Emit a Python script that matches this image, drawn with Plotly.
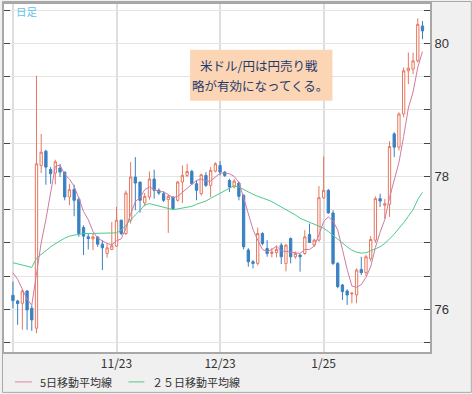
import plotly.graph_objects as go

# ---- data ----
idx = list(range(88))
opens = [76.21, 76.125, 76.09, 76.275, 76.015, 75.715, 78.165, 78.38, 78.105, 78.05,
         78.125, 78.065, 77.69, 77.805, 77.655, 77.23, 77.09, 77.06, 77.085, 76.98,
         76.84, 76.90, 76.95, 77.34, 77.14, 77.34, 77.99, 77.915, 77.60, 77.69,
         77.96, 77.79, 77.74, 77.65, 77.69, 77.64, 77.915, 78.015, 78.075, 77.89,
         77.74, 78.015, 77.865, 78.08, 78.165, 78.065, 77.94, 77.84, 77.90, 77.715,
         76.89, 76.715, 76.69, 77.14, 76.915, 76.84, 76.85, 76.965, 76.69, 77.065,
         76.79, 76.815, 76.84, 77.125, 76.965, 77.04, 77.68, 77.79, 77.45, 76.69,
         76.365, 76.275, 76.23, 76.215, 76.60, 76.55, 76.76, 77.04, 77.665, 77.565,
         77.58, 78.64, 78.44, 78.94, 79.59, 79.615, 79.74, 80.265]
highs = [76.415, 76.14, 76.30, 76.29, 76.06, 79.515, 78.64, 78.40, 78.14, 78.25,
         78.19, 78.07, 77.89, 77.875, 77.69, 77.265, 77.14, 77.14, 77.10, 77.04,
         76.99, 77.315, 77.54, 77.35, 77.79, 78.215, 78.29, 77.92, 77.75, 78.075,
         78.10, 77.82, 77.77, 77.72, 77.70, 77.93, 78.165, 78.19, 78.10, 77.94,
         78.04, 78.065, 78.14, 78.215, 78.23, 78.08, 77.965, 77.96, 77.92, 77.73,
         76.92, 76.74, 77.23, 77.16, 77.04, 76.92, 76.96, 77.00, 76.98, 77.08,
         76.87, 76.83, 77.19, 77.29, 77.06, 77.855, 78.30, 77.81, 77.49, 76.71,
         76.38, 76.30, 76.26, 76.615, 76.79, 76.82, 77.10, 77.70, 77.74, 77.66,
         78.53, 78.665, 78.965, 79.64, 79.865, 79.865, 80.38, 80.34]
lows = [76.015, 75.765, 75.69, 75.69, 75.675, 75.64, 78.05, 77.875, 77.89, 77.88,
        77.99, 77.64, 77.565, 77.40, 77.09, 76.815, 76.90, 76.89, 76.94, 76.59,
        76.775, 76.89, 76.94, 77.115, 77.115, 77.29, 77.49, 77.455, 77.55, 77.65,
        77.665, 77.72, 77.615, 77.15, 77.50, 77.62, 77.60, 77.99, 77.87, 77.64,
        77.71, 77.84, 77.69, 78.06, 78.015, 77.99, 77.765, 77.82, 77.64, 76.90,
        76.64, 76.615, 76.66, 76.96, 76.79, 76.78, 76.78, 76.68, 76.57, 76.69,
        76.76, 76.565, 76.82, 77.00, 76.94, 77.02, 77.66, 77.44, 76.665, 76.315,
        76.14, 76.065, 76.09, 76.09, 76.515, 76.50, 76.72, 77.00, 77.54, 77.36,
        77.39, 78.29, 78.39, 78.89, 79.39, 79.54, 79.715, 80.065]
closes = [76.13, 76.085, 76.275, 75.99, 75.84, 78.19, 78.365, 78.14, 78.04, 78.22,
          78.065, 77.69, 77.80, 77.64, 77.14, 77.10, 77.065, 77.09, 76.98, 76.925,
          76.925, 76.955, 77.34, 77.14, 77.75, 77.99, 77.90, 77.64, 77.70, 77.96,
          77.79, 77.75, 77.64, 77.70, 77.515, 77.915, 78.015, 78.075, 77.89, 77.79,
          78.025, 77.865, 78.09, 78.19, 78.065, 78.015, 77.84, 77.93, 77.70, 76.94,
          76.715, 76.69, 77.14, 76.99, 76.84, 76.86, 76.90, 76.79, 76.965, 76.79,
          76.84, 76.79, 77.09, 77.005, 77.04, 77.68, 77.79, 77.45, 76.69, 76.34,
          76.265, 76.215, 76.24, 76.59, 76.55, 76.79, 77.05, 77.665, 77.63, 77.59,
          78.45, 78.44, 78.94, 79.59, 79.63, 79.74, 80.29, 80.19]
ma5 = [76.55, 76.45, 76.30, 76.15, 76.06, 76.50, 77.00, 77.35, 77.75, 78.15,
       78.17, 78.03, 77.96, 77.85, 77.67, 77.47, 77.35, 77.17, 77.07, 77.03,
       76.99, 76.97, 77.03, 77.06, 77.22, 77.43, 77.62, 77.68, 77.80, 77.84,
       77.80, 77.77, 77.77, 77.72, 77.68, 77.70, 77.76, 77.82, 77.88, 77.94,
       77.96, 77.93, 77.93, 77.99, 78.05, 78.05, 78.04, 78.00, 77.91, 77.68,
       77.42, 77.20, 77.04, 76.90, 76.87, 76.90, 76.95, 76.88, 76.87, 76.86,
       76.86, 76.84, 76.90, 76.90, 76.95, 77.12, 77.32, 77.39, 77.33, 77.19,
       76.90, 76.60, 76.35, 76.33, 76.37, 76.48, 76.64, 76.93, 77.16, 77.35,
       77.68, 77.95, 78.21, 78.60, 79.03, 79.27, 79.64, 79.88]
ma25 = [76.70, 76.68, 76.66, 76.65, 76.63, 76.77, 76.82, 76.88, 76.94, 76.99,
        77.03, 77.07, 77.10, 77.115, 77.13, 77.14, 77.14, 77.14, 77.14, 77.14,
        77.14, 77.14, 77.15, 77.19, 77.27, 77.35, 77.42, 77.49, 77.57, 77.59,
        77.57, 77.55, 77.53, 77.51, 77.50, 77.51, 77.52, 77.53, 77.55, 77.58,
        77.60, 77.63, 77.67, 77.71, 77.75, 77.79, 77.83, 77.86, 77.84, 77.80,
        77.77, 77.73, 77.70, 77.68, 77.65, 77.62, 77.58, 77.55, 77.51, 77.47,
        77.42, 77.37, 77.34, 77.31, 77.29, 77.26, 77.22, 77.17, 77.11, 77.05,
        76.99, 76.94, 76.89, 76.86, 76.845, 76.85, 76.88, 76.91, 76.94, 76.99,
        77.06, 77.13, 77.22, 77.30, 77.40, 77.50, 77.65, 77.76]
x_tick_pos = [0, 22, 44, 66]
x_tick_text = ["", "11/23", "12/23", "1/25"]
y_tick_vals = [75.5, 76.0, 76.5, 77.0, 77.5, 78.0, 78.5, 79.0, 79.5, 80.0, 80.5]
y_tick_text = ["", "76", "", "", "", "78", "", "", "", "80", ""]
legend_names = ["5日移動平均線", "２５日移動平均線"]
note_lines = ["米ドル/円は円売り戦", "略が有効になってくる。"]
title_label = "日足"

UP = "#e8775f"
DOWN = "#3a80c2"
C5 = "#cf7aa3"
C25 = "#4cca8b"
CJK = "Noto Sans CJK JP"

fig = go.Figure()
fig.add_trace(go.Candlestick(
    x=idx, open=opens, high=highs, low=lows, close=closes,
    increasing=dict(line=dict(color=UP, width=1), fillcolor="#ffffff"),
    decreasing=dict(line=dict(color=DOWN, width=1), fillcolor=DOWN),
    whiskerwidth=0, showlegend=False, hoverinfo="skip"))
fig.add_trace(go.Scatter(x=idx, y=ma25, mode="lines",
                         line=dict(color=C25, width=1), showlegend=False))
fig.add_trace(go.Scatter(x=idx, y=ma5, mode="lines",
                         line=dict(color=C5, width=1), showlegend=False))

L, T, W, H = 2, 3, 428, 349


def px(v):
    return (v - L) / W


def py(v):
    return (T + H - v) / H


shapes = [
    # outer border of the whole picture
    dict(type="rect", xref="paper", yref="paper", x0=px(0.5), x1=px(471.5),
         y0=py(392.5), y1=py(0.5), line=dict(color="#a8a8a8", width=1)),
    # note box
    dict(type="rect", xref="paper", yref="paper", x0=px(189), x1=px(332),
         y0=py(100), y1=py(49), fillcolor="#fcd5b4", line=dict(width=0)),
    # legend line samples
    dict(type="line", xref="paper", yref="paper", x0=px(13), x1=px(30),
         y0=py(382), y1=py(382), line=dict(color="#e0889a", width=1)),
    dict(type="line", xref="paper", yref="paper", x0=px(127), x1=px(143),
         y0=py(382), y1=py(382), line=dict(color=C25, width=1)),
]

annotations = [
    dict(xref="paper", yref="paper", x=px(258), y=py(65), text=note_lines[0],
         showarrow=False, xanchor="center", yanchor="middle",
         font=dict(family=CJK, size=12.5, color="#1f3a6e")),
    dict(xref="paper", yref="paper", x=px(259.5), y=py(85), text=note_lines[1],
         showarrow=False, xanchor="center", yanchor="middle",
         font=dict(family=CJK, size=12.5, color="#1f3a6e")),
    dict(xref="paper", yref="paper", x=px(12), y=py(10.5), text=title_label,
         showarrow=False, xanchor="left", yanchor="middle",
         font=dict(family=CJK, size=10.5, color="#5ec3ee")),
    dict(xref="paper", yref="paper", x=px(36), y=py(382), text=legend_names[0],
         showarrow=False, xanchor="left", yanchor="middle",
         font=dict(family=CJK, size=11, color="#333333")),
    dict(xref="paper", yref="paper", x=px(149), y=py(382), text=legend_names[1],
         showarrow=False, xanchor="left", yanchor="middle",
         font=dict(family=CJK, size=11, color="#333333")),
]

fig.update_layout(
    width=472, height=394,
    margin=dict(l=L, r=472 - L - W, t=T, b=394 - T - H),
    paper_bgcolor="#f0f0f0", plot_bgcolor="#ffffff",
    shapes=shapes, annotations=annotations, showlegend=False,
    hovermode=False,
    font=dict(family=CJK, size=12, color="#333333"),
    xaxis=dict(range=[-1.9, 88.6], rangeslider=dict(visible=False),
               tickmode="array", tickvals=x_tick_pos, ticktext=x_tick_text,
               showgrid=True, gridcolor="#dedede", gridwidth=2,
               showline=True, linecolor="#a8a8a8", linewidth=2, mirror=True,
               ticks="", zeroline=False,
               tickfont=dict(family=CJK, size=12, color="#333333")),
    yaxis=dict(range=[75.356, 80.596], side="right",
               tickmode="array", tickvals=y_tick_vals, ticktext=y_tick_text,
               showgrid=True, gridcolor="#e4e4e4", gridwidth=1,
               showline=True, linecolor="#a8a8a8", linewidth=2, mirror="ticks",
               ticks="inside", ticklen=6, tickwidth=1, tickcolor="#444444",
               zeroline=False,
               tickfont=dict(family="Liberation Sans", size=13, color="#333333")),
)

fig.write_html("out.html",
               config={"displayModeBar": False, "staticPlot": True},
               post_script="document.body.style.margin='0';document.body.style.padding='0';")
